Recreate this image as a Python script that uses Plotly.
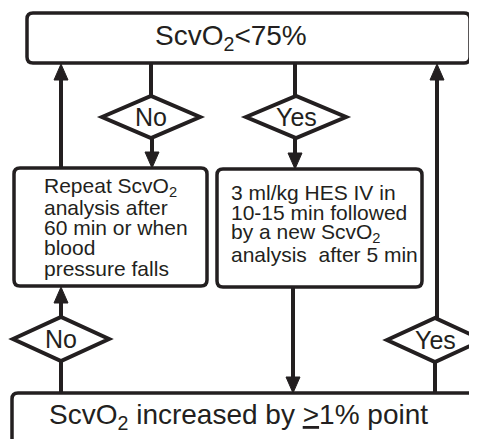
import plotly.graph_objects as go

# ---- content ----
top_label = "ScvO<sub>2</sub>&lt;75%"
bottom_label = "ScvO<sub>2</sub> increased by <u>&gt;</u>1% point"
left_box_lines = ["Repeat ScvO<sub>2</sub>", "analysis after", "60 min or when", "blood", "pressure falls"]
right_box_lines = ["3 ml/kg HES IV in", "10-15 min followed", "by a new ScvO<sub>2</sub>", "analysis  after 5 min"]
decision_labels = ["No", "Yes", "No", "Yes"]

W, H = 477, 439
OFF = 8  # page body margin
INK = "#231f20"
FONT = "Liberation Sans, Arial, Helvetica, sans-serif"

shapes = []
annotations = []


def rounded_rect(x0, y0, x1, y1, r=6, lw=3.5):
    p = (f"M {x0+r},{y0} L {x1-r},{y0} Q {x1},{y0} {x1},{y0+r} "
         f"L {x1},{y1-r} Q {x1},{y1} {x1-r},{y1} L {x0+r},{y1} "
         f"Q {x0},{y1} {x0},{y1-r} L {x0},{y0+r} Q {x0},{y0} {x0+r},{y0} Z")
    shapes.append(dict(type="path", path=p, xref="x", yref="y",
                       line=dict(color=INK, width=lw), fillcolor="white"))


def diamond(cx, cy, hw, hh, lw=4):
    p = f"M {cx-hw},{cy} L {cx},{cy-hh} L {cx+hw},{cy} L {cx},{cy+hh} Z"
    shapes.append(dict(type="path", path=p, xref="x", yref="y",
                       line=dict(color=INK, width=lw), fillcolor="white"))


def line(x, y0, y1, lw=4):
    shapes.append(dict(type="line", x0=x, x1=x, y0=y0, y1=y1, xref="x", yref="y",
                       line=dict(color=INK, width=lw)))


def arrow_head(x, ytip, up=True, hw=7, L=16):
    yb = ytip + L if up else ytip - L
    p = f"M {x},{ytip} L {x-hw},{yb} L {x+hw},{yb} Z"
    shapes.append(dict(type="path", path=p, xref="x", yref="y",
                       line=dict(color=INK, width=1), fillcolor=INK))


def text(x, y, s, size, anchor="center"):
    annotations.append(dict(x=x, y=y, xref="x", yref="y", text=s, showarrow=False,
                            xanchor=anchor, yanchor="middle",
                            font=dict(family=FONT, size=size, color=INK)))


# connectors
line(61, 170, 70); arrow_head(61, 64, up=True)
line(151, 63, 96)
line(152, 138, 160); arrow_head(152, 168, up=False)
line(295, 63, 96)
line(295, 138, 160); arrow_head(295, 169, up=False)
line(293, 287, 385); arrow_head(293, 393, up=False)
line(61, 317, 295); arrow_head(61, 287, up=True)
line(61, 360, 393)
line(437, 318, 70); arrow_head(437, 64, up=True)
line(435, 362, 393)

# boxes
rounded_rect(27, 13, 470, 63)
rounded_rect(14, 168, 207, 286)
rounded_rect(217, 169, 422, 287)
rounded_rect(12, 393, 520, 480)

# decisions
diamond(151, 117, 49, 21)
diamond(296, 117, 50, 21)
diamond(61, 339, 48, 22)
diamond(435, 340, 48, 22)

text(231, 37, top_label, 28)
text(238, 416, bottom_label, 28)
for i, s in enumerate(left_box_lines):
    text(42, 187 + i * 20.3, s, 21, "left")
for i, s in enumerate(right_box_lines):
    text(229, 192 + i * 20.7, s, 21, "left")
for (cx, cy), s in zip([(151, 117), (296, 117), (61, 339), (435, 340)], decision_labels):
    text(cx, cy, s, 25)

fig = go.Figure()
fig.update_layout(
    width=W - OFF, height=H - OFF, margin=dict(l=0, r=0, t=0, b=0),
    paper_bgcolor="white", plot_bgcolor="white",
    xaxis=dict(range=[OFF, W], visible=False, fixedrange=True),
    yaxis=dict(range=[H, OFF], visible=False, fixedrange=True),
    shapes=shapes, annotations=annotations, showlegend=False,
)
fig.write_html("out.html", config={"displayModeBar": False})
